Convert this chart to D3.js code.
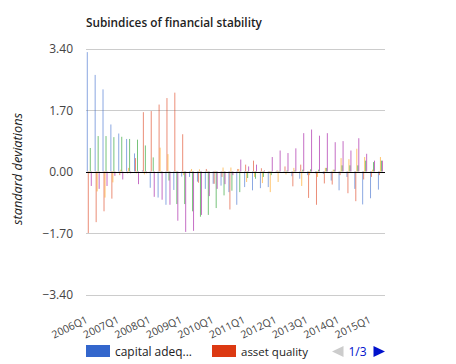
<!DOCTYPE html>
<html><head><meta charset="utf-8">
<script src="https://cdn.jsdelivr.net/npm/d3@7"></script>
<style>body{margin:0;background:#fff;} svg{display:block;font-family:"Open Sans",sans-serif;}</style>
</head><body><svg id="c" width="456" height="364"></svg>
<script>
const quarters = ["2006Q1","2006Q2","2006Q3","2006Q4","2007Q1","2007Q2","2007Q3","2007Q4",
  "2008Q1","2008Q2","2008Q3","2008Q4","2009Q1","2009Q2","2009Q3","2009Q4",
  "2010Q1","2010Q2","2010Q3","2010Q4","2011Q1","2011Q2","2011Q3","2011Q4",
  "2012Q1","2012Q2","2012Q3","2012Q4","2013Q1","2013Q2","2013Q3","2013Q4",
  "2014Q1","2014Q2","2014Q3","2014Q4","2015Q1","2015Q2"];
const xTickLabels = ["2006Q1","2007Q1","2008Q1","2009Q1","2010Q1","2011Q1","2012Q1","2013Q1","2014Q1","2015Q1"];
const yTicks = [-3.4, -1.7, 0, 1.7, 3.4];

const capitalAdequacy = [3.30,2.67,2.27,1.30,1.05,0.90,0.50,0.03,-0.45,-0.72,-0.92,-0.51,-0.14,-0.15,-0.28,-0.48,-0.34,-0.39,-0.57,-0.92,-0.43,-0.52,-0.46,-0.43,-0.03,-0.02,-0.13,-0.20,-0.10,-0.05,-0.07,-0.25,-0.52,-0.15,-0.48,-0.91,-0.74,-0.50];
const assetQuality    = [-1.70,-1.40,-1.10,-0.75,-0.10,-0.05,0.37,1.64,1.67,1.85,2.03,2.18,1.03,0.02,-0.31,0.07,-0.34,-0.15,-1.05,0.07,0.19,0.30,0.09,-0.05,0.03,0.14,-0.41,0.19,-0.73,-0.92,-0.33,-0.36,-0.10,-0.60,-0.82,-0.22,-0.15,-0.10];
const profitability   = [-0.05,-0.55,-0.72,-0.30,0.05,0.10,-0.05,-0.08,0.00,0.66,0.48,0.02,-0.10,0.07,0.06,0.02,0.02,0.11,0.11,0.07,-0.29,-0.15,-0.32,-0.57,-0.29,-0.08,0.10,-0.40,-0.10,-0.15,0.10,0.05,0.37,0.34,0.63,0.40,0.05,0.40];
const liquidity       = [0.65,0.98,0.98,0.95,0.96,0.90,0.88,0.72,0.39,-0.05,-0.25,-0.90,-0.90,-1.10,-1.25,-1.20,-1.01,-0.66,-0.53,-0.57,-0.18,-0.20,-0.15,-0.10,0.02,0.03,0.03,0.05,0.06,0.05,0.10,0.05,0.17,0.17,0.17,0.30,0.26,0.30];
const marketRisk      = [-0.40,-0.48,-0.40,-0.12,-0.22,-0.05,-0.35,-0.05,-0.70,-0.78,-0.92,-1.36,-1.67,-1.64,-1.20,-0.68,-0.48,-0.35,-0.10,0.33,0.14,0.19,0.03,0.40,0.58,0.51,0.64,1.06,1.16,0.99,1.06,0.81,0.84,0.58,0.92,0.49,0.30,0.30];

const seriesNames  = ["capital adequacy","asset quality","profitability","liquidity","market risk"];
const seriesColors = ["#3366cc","#dc3912","#ff9900","#109618","#990099"];
const seriesValues = [capitalAdequacy, assetQuality, profitability, liquidity, marketRisk];
const legendLabels = ["capital adeq...","asset quality"];
const pageLabel = "1/3";

const svg = d3.select("#c");
const plotLeft = 86, plotRight = 385, plotTop = 48.5, plotBottom = 294.5;

const x0 = d3.scaleBand().domain(quarters).range([plotLeft, plotRight]).paddingInner(0).paddingOuter(0);
const x1 = d3.scaleBand().domain(d3.range(seriesNames.length)).range([0.8, 5.8]);
const y = d3.scaleLinear().domain([-3.4, 3.4]).range([plotBottom, plotTop]);

// gridlines
svg.append("g").selectAll("line").data(yTicks.filter(d => d !== 0)).join("line")
  .attr("x1", plotLeft).attr("x2", plotRight)
  .attr("y1", d => Math.round(y(d)) + 0.5).attr("y2", d => Math.round(y(d)) + 0.5)
  .attr("stroke", "#cccccc").attr("stroke-width", 1);

// y tick labels
svg.append("g").selectAll("text").data(yTicks).join("text")
  .attr("x", 73).attr("y", d => y(d) + 4.5)
  .attr("text-anchor", "end").attr("font-size", 12).attr("fill", "#444")
  .text(d => d3.format(".2f")(d));

// bars
const groups = svg.append("g").selectAll("g").data(quarters).join("g")
  .attr("transform", d => `translate(${x0(d)},0)`);
groups.selectAll("rect").data((q, i) => seriesValues.map((s, k) => ({k, v: s[i]}))).join("rect")
  .attr("x", d => x1(d.k))
  .attr("width", x1.bandwidth() * 0.95)
  .attr("y", d => Math.min(y(d.v), y(0)))
  .attr("height", d => Math.abs(y(d.v) - y(0)))
  .attr("fill", d => seriesColors[d.k])
  .attr("fill-opacity", 0.6);

// zero line
svg.append("line").attr("x1", plotLeft).attr("x2", plotRight)
  .attr("y1", Math.round(y(0)) + 0.5).attr("y2", Math.round(y(0)) + 0.5)
  .attr("stroke", "#000").attr("stroke-width", 1);

// x labels
svg.append("g").selectAll("text").data(xTickLabels).join("text")
  .attr("text-anchor", "end").attr("font-size", 10.5).attr("fill", "#444")
  .attr("transform", d => `translate(${x0(d) + x0.bandwidth()/2 - 1.5},${322}) rotate(-26)`)
  .text(d => d);

// title
const title = svg.append("text").attr("x", 86).attr("y", 26.5)
  .attr("font-size", 12).attr("font-weight", 600).attr("fill", "#222")
  .text("Subindices of financial stability");
function fit(sel, w) {
  const cur = sel.node().getComputedTextLength();
  const fs = +sel.attr("font-size");
  sel.attr("font-size", (fs * w / cur).toFixed(2));
}
fit(title, 176);

// y axis title
const yt = svg.append("text").attr("transform", "translate(22,169) rotate(-90)")
  .attr("text-anchor", "middle").attr("font-size", 12).attr("font-style", "italic").attr("fill", "#222")
  .text("standard deviations");
fit(yt, 112);

// legend
const lg = svg.append("g");
const legX = [86, 212];
const legW = [77, 67];
legendLabels.forEach((t, i) => {
  lg.append("rect").attr("x", legX[i]).attr("y", 345).attr("width", 24).attr("height", 12).attr("fill", seriesColors[i]);
  const tx = lg.append("text").attr("x", legX[i] + 29).attr("y", 355.5).attr("font-size", 12).attr("fill", "#222").text(t);
  fit(tx, legW[i]);
});
lg.append("path").attr("d", "M343.5,346 L343.5,357 L332,351.5 Z").attr("fill", "#cccccc");
lg.append("text").attr("x", 357.5).attr("y", 355.5).attr("text-anchor", "middle").attr("font-size", 12).attr("fill", "#0011cc").text(pageLabel);
lg.append("path").attr("d", "M373.5,346 L373.5,357 L385,351.5 Z").attr("fill", "#0011cc");
</script></body></html>
